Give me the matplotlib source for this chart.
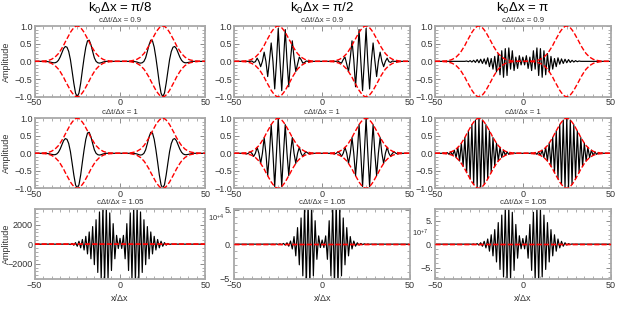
import numpy as np
import matplotlib
matplotlib.use("Agg")
import matplotlib.pyplot as plt
from matplotlib.ticker import MultipleLocator

plt.rcParams['font.family'] = ['Liberation Sans', 'DejaVu Sans']
plt.rcParams['mathtext.fontset'] = 'custom'
plt.rcParams['mathtext.rm'] = 'Liberation Sans'
plt.rcParams['mathtext.it'] = 'Liberation Sans:italic'

# ---------------- data (values on grid x = 0..50, mirrored to -50..50) ----------------
col_titles = ["k$_{0}$Δx = π/8", "k$_{0}$Δx = π/2", "k$_{0}$Δx = π"]
row_titles = ["cΔt/Δx = 0.9", "cΔt/Δx = 1", "cΔt/Δx = 1.05"]
x_ticks = [-50, 0, 50]

envelope_half = [0, 0, 0, 0, 0,
                 0.01, 0.01, 0.02, 0.03, 0.04, 0.06, 0.09, 0.12, 0.17, 0.22, 0.29, 0.37, 0.45,
                 0.55, 0.64, 0.73, 0.82, 0.89, 0.95, 0.99, 1.00, 0.99, 0.95, 0.89, 0.82, 0.73,
                 0.64, 0.55, 0.45, 0.37, 0.29, 0.22, 0.17, 0.12, 0.09, 0.06, 0.04, 0.03, 0.02,
                 0.01, 0.01,
                 0, 0, 0, 0, 0]

black_pi8_c09 = [0, 0, 0, 0, 0, 0, 0, 0, 0,
                 -0.01, -0.02, -0.04, -0.05, -0.04, 0.00, 0.10, 0.28, 0.47, 0.60, 0.58, 0.40,
                 0.10, -0.25, -0.62, -0.90, -1.00, -0.90, -0.62, -0.28, 0.05, 0.28, 0.40, 0.42,
                 0.36, 0.24, 0.12, 0.03, -0.02, -0.04, -0.04, -0.03, -0.02, -0.01,
                 0, 0, 0, 0, 0, 0, 0, 0]

black_pi8_c1 = [0, 0, 0, 0, 0, 0, 0, 0, 0,
                -0.01, -0.02, -0.04, -0.05, -0.04, 0.00, 0.10, 0.28, 0.47, 0.60, 0.58, 0.40,
                0.10, -0.25, -0.62, -0.90, -1.00, -0.90, -0.62, -0.28, 0.05, 0.28, 0.40, 0.42,
                0.36, 0.24, 0.12, 0.03, -0.02, -0.04, -0.04, -0.03, -0.02, -0.01,
                0, 0, 0, 0, 0, 0, 0, 0]

black_pi2_c09 = [0, 0, 0, 0, 0, 0, 0, 0, 0,
                 0.01, -0.03, -0.05, 0.05, 0.12, -0.08, -0.29, 0.10, 0.58, 0.05, -0.72, 0.00,
                 0.90, 0.02, -0.83, 0.00, 0.93, -0.03, -0.78, 0.00, 0.52, 0.02, -0.43, 0.00,
                 0.26, 0.00, -0.15, 0.00, 0.09, -0.01, -0.03, 0.01,
                 0, 0, 0, 0, 0, 0, 0, 0, 0, 0]

black_pi2_c1 = [0, 0, 0, 0, 0, 0, 0,
                -0.02, 0, 0.04, 0, -0.09, 0, 0.17, 0, -0.29, 0, 0.45, 0, -0.64, 0, 0.82, 0,
                -0.95, 0, 1.00, 0, -0.95, 0, 0.82, 0, -0.64, 0, 0.45, 0, -0.29, 0, 0.17, 0,
                -0.09, 0, 0.04, 0, -0.02,
                0, 0, 0, 0, 0, 0, 0]

black_pi_c09 = [0.12, -0.10, 0.16, -0.20, 0.12, -0.26, 0.30, -0.22, 0.38, -0.40, 0.36, -0.45,
                0.30, -0.38, 0.22, -0.30, 0.14, -0.22, 0.08, -0.15, 0.10, -0.08, 0.07, -0.06,
                0.06, -0.04, 0.05, -0.03, 0.03, -0.02, 0.02, -0.01, 0.01,
                0, 0, 0, 0, 0, 0, 0, 0, 0, 0, 0, 0, 0, 0, 0, 0, 0, 0]

black_pi_c1 = [0, 0, 0, 0, 0,
               0.01, -0.01, 0.02, -0.03, 0.04, -0.06, 0.09, -0.12, 0.17, -0.22, 0.29, -0.37,
               0.45, -0.55, 0.64, -0.73, 0.82, -0.89, 0.95, -0.99, 1.00, -0.99, 0.95, -0.89,
               0.82, -0.73, 0.64, -0.55, 0.45, -0.37, 0.29, -0.22, 0.17, -0.12, 0.09, -0.06,
               0.04, -0.03, 0.02, -0.01, 0.01,
               0, 0, 0, 0, 0]

black_pi8_c105 = [600, -450, 900, -1500, 2100, -2700, 3200, -3600, 3800, -3900, 3800, -3600,
                  3300, -2900, 2500, -2100, 1800, -1500, 1250, -1000, 800, -600, 480, -380,
                  300, -220, 160, -110, 70, -40, 20, -10,
                  0, 0, 0, 0, 0, 0, 0, 0, 0, 0, 0, 0, 0, 0, 0, 0, 0, 0, 0]

black_pi2_c105 = [6000, -5000, 12000, -22000, 34000, -46000, 56000, -60000, 62000, -60000,
                  54000, -46000, 38000, -30000, 24000, -17000, 11000, -7000, 4500, -3000,
                  2000, -1400, 1000, -700, 500, -400, 300, -200, 150, -100, 100,
                  0, 0, 0, 0, 0, 0, 0, 0, 0, 0, 0, 0, 0, 0, 0, 0, 0, 0, 0, 0]

black_pi_c105 = [1.2e7, -1.0e7, 1.8e7, -3.0e7, 4.2e7, -5.6e7, 6.8e7, -7.6e7, 8.0e7, -8.0e7,
                 7.6e7, -7.0e7, 6.2e7, -5.4e7, 4.6e7, -3.8e7, 3.1e7, -2.5e7, 2.0e7, -1.5e7,
                 1.1e7, -0.8e7, 0.6e7, -0.45e7, 0.3e7, -0.2e7, 0.12e7, -0.07e7, 0.04e7,
                 -0.02e7, 0.01e7,
                 0, 0, 0, 0, 0, 0, 0, 0, 0, 0, 0, 0, 0, 0, 0, 0, 0, 0, 0, 0]

black_data = [[black_pi8_c09, black_pi2_c09, black_pi_c09],
              [black_pi8_c1, black_pi2_c1, black_pi_c1],
              [black_pi8_c105, black_pi2_c105, black_pi_c105]]

ylims_row2 = [3600, 5.1e4, 7.5e7]
yticks_row2 = [[-2000, 0, 2000], [-5e4, 0, 5e4], [-5e7, 0, 5e7]]
yticklabels_row2 = [["−2000", "0", "2000"], ["−5.", "0.", "5."], ["−5.", "0.", "5."]]
offset_labels = [None, "10$^{+4}$", "10$^{+7}$"]


def full(half):
    h = np.asarray(half, dtype=float)
    return np.concatenate([h[::-1], h[1:]])


x_grid = np.arange(-50, 51)
env_full = full(envelope_half)

# ---------------- layout ----------------
W, H = 618, 317
fig = plt.figure(figsize=(W / 100, H / 100), dpi=100)
col_px = [(34.5, 205.5), (234.3, 410.0), (435.0, 610.7)]
row_px = [(26.0, 96.7), (118.3, 188.3), (209.0, 279.3)]
offset_pos = [None, (-0.055, 0.86), (-0.035, 0.655)]

frame_col = '#a9a9a9'
tick_col = '#8c8c8c'
label_col = '#333333'

for r in range(3):
    for c in range(3):
        l, rt = col_px[c]
        t, b = row_px[r]
        ax = fig.add_axes([l / W, 1 - b / H, (rt - l) / W, (b - t) / H])
        yb = full(black_data[r][c])
        ax.plot(x_grid, yb, color='black', lw=0.85, zorder=2)
        ax.plot(x_grid, env_full, color='red', lw=1.0, dashes=(3.6, 1.6), zorder=3)
        ax.plot(x_grid, -env_full, color='red', lw=1.0, dashes=(3.6, 1.6), zorder=3)
        ax.set_xlim(-50, 50)
        ax.set_xticks(x_ticks)
        ax.set_xticklabels(["−50", "0", "50"])
        ax.xaxis.set_minor_locator(MultipleLocator(5))
        if r < 2:
            ax.set_ylim(-1, 1)
            ax.set_yticks([-1, -0.5, 0, 0.5, 1])
            ax.set_yticklabels(["−1.0", "−0.5", "0.0", "0.5", "1.0"])
            ax.yaxis.set_minor_locator(MultipleLocator(0.1))
        else:
            lim = ylims_row2[c]
            ax.set_ylim(-lim, lim)
            ax.set_yticks(yticks_row2[c])
            ax.set_yticklabels(yticklabels_row2[c])
            ax.yaxis.set_minor_locator(MultipleLocator(yticks_row2[c][2] / 5))
            if offset_labels[c]:
                ax.text(offset_pos[c][0], offset_pos[c][1], offset_labels[c],
                        transform=ax.transAxes, ha='right', va='center',
                        fontsize=5.5, color=label_col)
            ax.text(0.5, -0.27, "x/Δx", transform=ax.transAxes, ha='center', va='center',
                    fontsize=6.5, color=label_col)
        for sp in ax.spines.values():
            sp.set_color(frame_col)
            sp.set_linewidth(1.3)
        ax.tick_params(which='both', direction='in', top=True, right=True,
                       color=tick_col, labelsize=6.5, labelcolor=label_col)
        ax.tick_params(axis='x', which='both', pad=1)
        ax.tick_params(axis='y', which='both', pad=1.5)
        ax.tick_params(which='major', length=3.5, width=0.7)
        ax.tick_params(which='minor', length=2, width=0.5)
        ax.text(0.5, 1 + 6.0 / (b - t), row_titles[r], transform=ax.transAxes,
                ha='center', va='center', fontsize=5.6, color=label_col)
        if r == 0:
            fig.text((l + rt) / 2 / W, 1 - 8.5 / H, col_titles[c], ha='center', va='center',
                     fontsize=9.5, color='black')
        if c == 0:
            fig.text(6.5 / W, 1 - (t + b) / 2 / H, "Amplitude", rotation=90,
                     ha='center', va='center', fontsize=6.5, color=label_col)

fig.savefig('out.png', dpi=100)
